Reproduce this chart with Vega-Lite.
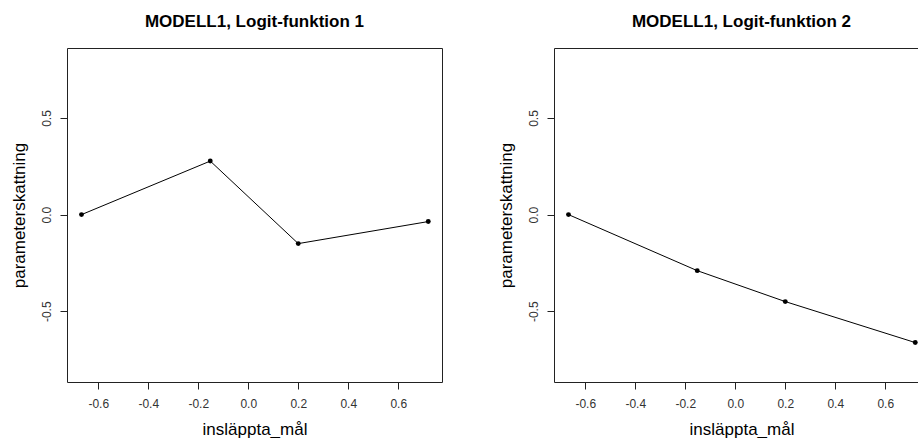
{
  "$schema": "https://vega.github.io/schema/vega-lite/v6.json",
  "padding": {"left": 9, "top": 12, "right": 0, "bottom": 0},
  "background": "white",
  "datasets": {
    "f1": [
      {"insläppta_mål": -0.667, "parameterskattning": 0.0},
      {"insläppta_mål": -0.152, "parameterskattning": 0.277},
      {"insläppta_mål": 0.2, "parameterskattning": -0.15},
      {"insläppta_mål": 0.72, "parameterskattning": -0.036}
    ],
    "f2": [
      {"insläppta_mål": -0.667, "parameterskattning": 0.0},
      {"insläppta_mål": -0.152, "parameterskattning": -0.29},
      {"insläppta_mål": 0.2, "parameterskattning": -0.45},
      {"insläppta_mål": 0.72, "parameterskattning": -0.662}
    ]
  },
  "config": {
    "locale": {"number": {"decimal": ".", "thousands": ",", "grouping": [3], "currency": ["$", ""], "minus": "-"}},
    "font": "Liberation Sans",
    "view": {"stroke": "#222", "strokeWidth": 1},
    "axis": {
      "grid": false,
      "domain": false,
      "tickColor": "#222",
      "tickSize": 7,
      "labelFontSize": 12,
      "labelColor": "#333",
      "labelFont": "Liberation Sans",
      "titleFont": "Liberation Sans",
      "titleFontSize": 17,
      "titleFontWeight": "normal",
      "titleColor": "black"
    },
    "title": {"fontSize": 17, "fontWeight": "bold", "font": "Liberation Sans", "color": "black", "baseline": "alphabetic", "offset": 17}
  },
  "bounds": "flush",
  "spacing": 112,
  "hconcat": [
    {
      "title": "MODELL1, Logit-funktion 1",
      "width": 375,
      "height": 334,
      "data": {"name": "f1"},
      "encoding": {
        "x": {"field": "insläppta_mål", "type": "quantitative",
              "scale": {"domain": [-0.725, 0.775], "nice": false, "zero": false},
              "axis": {"values": [-0.6, -0.4, -0.2, 0, 0.2, 0.4, 0.6], "format": ".1f", "labelPadding": 9, "titleY": 52, "titleBaseline": "alphabetic"}},
        "y": {"field": "parameterskattning", "type": "quantitative",
              "scale": {"domain": [-0.866, 0.862], "nice": false, "zero": false},
              "axis": {"values": [-0.5, 0, 0.5], "format": ".1f", "labelAngle": -90, "labelAlign": "center", "labelBaseline": "bottom", "labelPadding": 7, "titleX": -43, "titleBaseline": "alphabetic"}}
      },
      "layer": [
        {"mark": {"type": "line", "color": "black", "strokeWidth": 1}},
        {"mark": {"type": "circle", "color": "black", "opacity": 1, "size": 24}}
      ]
    },
    {
      "title": "MODELL1, Logit-funktion 2",
      "width": 375,
      "height": 334,
      "data": {"name": "f2"},
      "encoding": {
        "x": {"field": "insläppta_mål", "type": "quantitative",
              "scale": {"domain": [-0.725, 0.775], "nice": false, "zero": false},
              "axis": {"values": [-0.6, -0.4, -0.2, 0, 0.2, 0.4, 0.6], "format": ".1f", "labelPadding": 9, "titleY": 52, "titleBaseline": "alphabetic"}},
        "y": {"field": "parameterskattning", "type": "quantitative",
              "scale": {"domain": [-0.866, 0.862], "nice": false, "zero": false},
              "axis": {"values": [-0.5, 0, 0.5], "format": ".1f", "labelAngle": -90, "labelAlign": "center", "labelBaseline": "bottom", "labelPadding": 7, "titleX": -43, "titleBaseline": "alphabetic"}}
      },
      "layer": [
        {"mark": {"type": "line", "color": "black", "strokeWidth": 1}},
        {"mark": {"type": "circle", "color": "black", "opacity": 1, "size": 24}}
      ]
    }
  ]
}
